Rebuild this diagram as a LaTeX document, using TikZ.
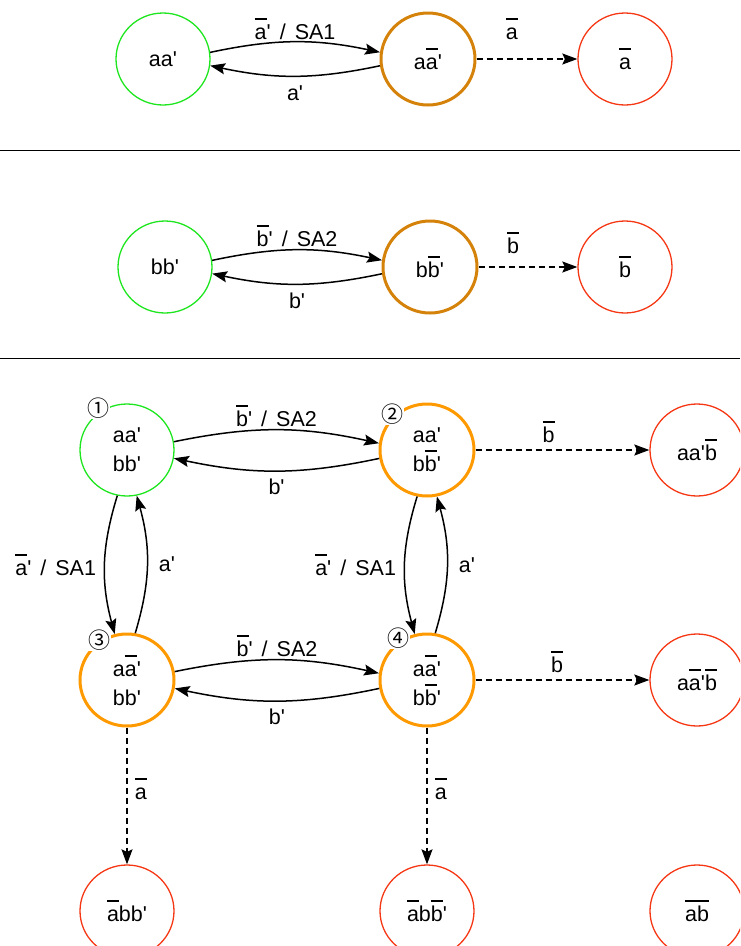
\documentclass[tikz,border=0pt]{standalone}
\usepackage{fontspec}
\setmainfont{Liberation Sans}
\newfontfamily\cjkf{Noto Sans CJK JP}
\usetikzlibrary{arrows.meta,shapes.geometric}
\definecolor{cgreen}{RGB}{30,230,30}
\definecolor{cdorange}{RGB}{212,130,10}
\definecolor{corange}{RGB}{255,153,0}
\definecolor{cred}{RGB}{245,55,20}
\newlength\ovlw
\newcommand{\ovl}[1]{\settowidth{\ovlw}{#1}\rlap{\rule[0.9em]{\ovlw}{2pt}}#1}
\newcommand{\myq}{\textquotesingle}
\newcommand{\sep}{\hspace{0.42em}/\hspace{0.42em}}
\tikzset{
  every node/.style={font=\fontsize{21.5}{29}\selectfont},
  st/.style={ellipse, minimum width=94pt, minimum height=92pt, inner sep=0pt, align=center},
  gnode/.style={st, draw=cgreen, line width=1.3pt},
  onodeA/.style={st, draw=cdorange, line width=3pt},
  onodeB/.style={st, draw=corange, line width=3pt},
  rnode/.style={st, draw=cred, line width=1.3pt},
  arr/.style={-{Stealth[length=15pt,width=11pt,inset=2.5pt]}, line width=1.5pt},
  darr/.style={arr, dash pattern=on 6pt off 4pt},
  lbl/.style={inner sep=1pt},
  num/.style={fill=white, inner sep=0.5pt, font=\cjkf\fontsize{22}{22}\selectfont},
}
\begin{document}
\begin{tikzpicture}[x=1pt,y=-1pt]
\useasboundingbox (0,0) rectangle (740,946);
\clip (0,0) rectangle (740,946);
% section 1
\node[gnode] (A1) at (163,59) {aa\myq};
\node[onodeA] (A2) at (428,59) {a\ovl{a}\myq};
\node[rnode] (A3) at (625,59) {\ovl{a}};
\draw[arr] (A1.8) to[bend left=12] node[lbl, above=1pt] {\ovl{a}\myq\sep SA1} (A2.172);
\draw[arr] (A2.188) to[bend left=12] node[lbl, below=8pt] {a\myq} (A1.352);
\draw[darr] (A2) -- node[lbl, pos=0.35, above=18pt] {\ovl{a}} (A3);
\coordinate (L1a) at (0,150); \coordinate (L1b) at (740,150);
\draw[line width=1pt] (L1a) -- (L1b);
% section 2
\node[gnode] (B1) at (165,267) {bb\myq};
\node[onodeA] (B2) at (430,267) {b\ovl{b}\myq};
\node[rnode] (B3) at (625,267) {\ovl{b}};
\draw[arr] (B1.8) to[bend left=12] node[lbl, above=2pt] {\ovl{b}\myq\sep SA2} (B2.172);
\draw[arr] (B2.188) to[bend left=12] node[lbl, below=7pt] {b\myq} (B1.352);
\draw[darr] (B2) -- node[lbl, pos=0.35, above=12pt] {\ovl{b}} (B3);
\coordinate (L2a) at (0,358); \coordinate (L2b) at (740,358);
\draw[line width=1pt] (L2a) -- (L2b);
% section 3
\node[gnode] (N1) at (127,450) {aa\myq\\bb\myq};
\node[onodeB] (N2) at (427,450) {aa\myq\\b\ovl{b}\myq};
\node[onodeB] (N3) at (127,680) {a\ovl{a}\myq\\bb\myq};
\node[onodeB] (N4) at (427,680) {a\ovl{a}\myq\\b\ovl{b}\myq};
\node[rnode] (R1) at (697,450) {aa\myq\ovl{b}};
\node[rnode] (R2) at (697,680) {a\ovl{a}\myq\ovl{b}};
\node[rnode] (R3) at (127,911) {\ovl{a}bb\myq};
\node[rnode] (R4) at (427,911) {\ovl{a}b\ovl{b}\myq};
\node[rnode] (R5) at (697,911) {\ovl{a}\ovl{b}};
\node[num] (K1) at (98,408) {①};
\node[num] (K2) at (392,414) {②};
\node[num] (K3) at (99,640) {③};
\node[num] (K4) at (398,638) {④};
% horizontal pairs
\draw[arr] (N1.10) to[bend left=12] node[lbl, above=2pt] {\ovl{b}\myq\sep SA2} (N2.172);
\draw[arr] (N2.190) to[bend left=12] node[lbl, below=6pt] {b\myq} (N1.350);
\draw[arr] (N3.10) to[bend left=12] node[lbl, above=2pt] {\ovl{b}\myq\sep SA2} (N4.172);
\draw[arr] (N4.190) to[bend left=12] node[lbl, below=6pt] {b\myq} (N3.350);
% vertical pairs
\draw[arr] (N1.258) to[bend right=16] node[lbl, left=7pt] {\ovl{a}\myq\sep SA1} (N3.105);
\draw[arr] (N3.80) to[bend right=16] node[lbl, right=10pt] {a\myq} (N1.282);
\draw[arr] (N2.258) to[bend right=16] node[lbl, left=7pt] {\ovl{a}\myq\sep SA1} (N4.105);
\draw[arr] (N4.80) to[bend right=16] node[lbl, right=10pt] {a\myq} (N2.282);
% dashed
\draw[darr] (N2) -- node[lbl, pos=0.42, above=6pt] {\ovl{b}} (R1);
\draw[darr] (N4) -- node[lbl, pos=0.47, above=6pt] {\ovl{b}} (R2);
\draw[darr] (N3) -- node[lbl, pos=0.45, right=6pt] {\ovl{a}} (R3);
\draw[darr] (N4) -- node[lbl, pos=0.45, right=6pt] {\ovl{a}} (R4);
\end{tikzpicture}
\end{document}
